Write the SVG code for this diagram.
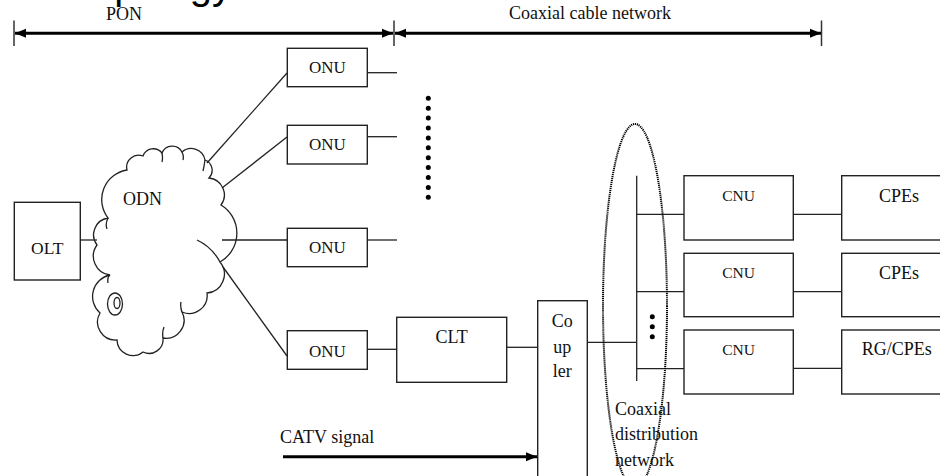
<svg xmlns="http://www.w3.org/2000/svg" width="940" height="476" viewBox="0 0 940 476">
<defs>
<style>
.box{fill:#fff;stroke:#222;stroke-width:1.4}
.ln{stroke:#222;stroke-width:1.3;fill:none}
.dim{stroke:#000;stroke-width:3;fill:none}
.tick{stroke:#333;stroke-width:1.5}
.t{font-family:"Liberation Serif","Times New Roman",serif;font-size:18px;fill:#111}
.tc{text-anchor:middle}
.dot{fill:#000}
</style>
<marker id="ah" markerUnits="userSpaceOnUse" markerWidth="12" markerHeight="10" refX="11" refY="5" orient="auto-start-reverse" viewBox="0 0 12 10">
<path d="M0,0.5 L11,5 L0,9.5 z" fill="#000"/>
</marker>
</defs>
<rect width="940" height="476" fill="#fff"/>

<text x="72" y="-1" style="font-family:'Liberation Sans',Arial,sans-serif;font-size:40px;fill:#000">Topology</text>

<g id="dimensions">
<line class="tick" x1="14" y1="20.5" x2="14" y2="46"/>
<line class="tick" x1="394" y1="20.5" x2="394" y2="46"/>
<line class="tick" x1="821.5" y1="20.5" x2="821.5" y2="46"/>
<line class="dim" x1="15" y1="33.3" x2="393" y2="33.3" marker-start="url(#ah)" marker-end="url(#ah)"/>
<line class="dim" x1="395" y1="33.3" x2="821" y2="33.3" marker-start="url(#ah)" marker-end="url(#ah)"/>
<text class="t" x="106" y="20">PON</text>
<text class="t" x="509" y="19">Coaxial cable network</text>
</g>

<g id="connectors">
<line class="ln" x1="80" y1="240" x2="97" y2="240"/>
<line class="ln" x1="207" y1="163" x2="287" y2="73"/>
<line class="ln" x1="222" y1="188" x2="287" y2="137"/>
<line class="ln" x1="222" y1="240" x2="287" y2="240"/>
<line class="ln" x1="223" y1="267" x2="287" y2="356"/>
<line class="ln" x1="365" y1="72.7" x2="397" y2="72.7"/>
<line class="ln" x1="365" y1="136.7" x2="397" y2="136.7"/>
<line class="ln" x1="365" y1="240" x2="397" y2="240"/>
<line class="ln" x1="365" y1="349.3" x2="397" y2="349.3"/>
<line class="ln" x1="506.7" y1="347.3" x2="538" y2="347.3"/>
<line class="ln" x1="587.3" y1="342.3" x2="636.7" y2="342.3"/>
<line class="ln" x1="636.7" y1="175.7" x2="636.7" y2="381"/>
<line class="ln" x1="636.7" y1="214.3" x2="684" y2="214.3"/>
<line class="ln" x1="636.7" y1="291.7" x2="684" y2="291.7"/>
<line class="ln" x1="636.7" y1="368.7" x2="684" y2="368.7"/>
<line class="ln" x1="793.3" y1="214.3" x2="841.7" y2="214.3"/>
<line class="ln" x1="793.3" y1="291.7" x2="841.7" y2="291.7"/>
<line class="ln" x1="793.3" y1="368.3" x2="841.7" y2="368.3"/>
<line class="dim" x1="283" y1="456.7" x2="537" y2="456.7" marker-end="url(#ah)"/>
</g>

<g id="dots-onu">
<circle class="dot" cx="428.3" cy="98.3" r="2.5"/>
<circle class="dot" cx="428.3" cy="108.2" r="2.5"/>
<circle class="dot" cx="428.3" cy="118.1" r="2.5"/>
<circle class="dot" cx="428.3" cy="128" r="2.5"/>
<circle class="dot" cx="428.3" cy="137.9" r="2.5"/>
<circle class="dot" cx="428.3" cy="147.8" r="2.5"/>
<circle class="dot" cx="428.3" cy="157.7" r="2.5"/>
<circle class="dot" cx="428.3" cy="167.6" r="2.5"/>
<circle class="dot" cx="428.3" cy="177.5" r="2.5"/>
<circle class="dot" cx="428.3" cy="187.4" r="2.5"/>
<circle class="dot" cx="428.3" cy="197.3" r="2.5"/>
</g>

<g id="dots-cnu">
<circle class="dot" cx="652.3" cy="316.7" r="2.5"/>
<circle class="dot" cx="652.3" cy="326.7" r="2.5"/>
<circle class="dot" cx="652.3" cy="336.7" r="2.5"/>
</g>

<g id="olt">
<rect class="box" x="14.3" y="202.3" width="66" height="77.7"/>
<text class="t tc" x="47.3" y="254" style="font-size:17.5px">OLT</text>
</g>

<g id="odn">
<path class="ln" fill="#fff" d="M97,245 A17,17 0 0 1 108,218 A30,30 0 0 1 127,170 A12,12 0 0 1 143,156 A11,11 0 0 1 162,153 A11,11 0 0 1 182,152 A14,14 0 0 1 205,160 A11,11 0 0 1 209,178 A17,17 0 0 1 221,205 A33,33 0 0 1 220,262 A19,19 0 0 1 207,293 A18,18 0 0 1 182,312 A18,18 0 0 1 163,338 A14,14 0 0 1 143,352 A16,16 0 0 1 117,340 A18,18 0 0 1 100,313 A22,22 0 0 1 110,275 A19,19 0 0 1 97,245 Z"/>
<path class="ln" d="M108,218 q-3,6 -1,11 M162,153 q1,5 0,9 M182,152 q2,4 1,8 M205,160 q-1,7 -2,11 M220,262 q-8,-15 -23,-22 M182,312 q-2,-5 -1,-10 M163,338 q-1,-6 1,-11 M110,275 q-3,2 -2,8"/>
<ellipse class="ln" cx="115" cy="304" rx="7.5" ry="11"/>
<ellipse class="ln" cx="117" cy="303" rx="3" ry="5.5"/>
<text class="t" x="123" y="205" style="font-size:18px">ODN</text>
</g>

<g id="onu1">
<rect class="box" x="287.3" y="48.3" width="80" height="38.4"/>
<text class="t tc" x="327.3" y="73" style="font-size:17px">ONU</text>
</g>
<g id="onu2">
<rect class="box" x="287.3" y="125.3" width="80" height="38.7"/>
<text class="t tc" x="327.3" y="150" style="font-size:17px">ONU</text>
</g>
<g id="onu3">
<rect class="box" x="287.3" y="228.3" width="80" height="38.4"/>
<text class="t tc" x="327.3" y="253" style="font-size:17px">ONU</text>
</g>
<g id="onu4">
<rect class="box" x="287.3" y="330.7" width="80" height="38.6"/>
<text class="t tc" x="327.3" y="356.7" style="font-size:17px">ONU</text>
</g>

<g id="clt">
<rect class="box" x="396.7" y="317.3" width="110" height="65"/>
<text class="t tc" x="451.7" y="342.7">CLT</text>
</g>

<g id="coupler">
<rect class="box" x="537.7" y="300.7" width="49.6" height="190"/>
<text class="t tc" x="562.3" y="326.7">Co</text>
<text class="t tc" x="562.3" y="352.7">up</text>
<text class="t tc" x="562.3" y="377.3">ler</text>
</g>

<g id="catv">
<text class="t" x="280" y="442.7">CATV signal</text>
</g>

<g id="cnu1">
<rect class="box" x="684" y="175.7" width="109.3" height="64.3"/>
<text class="t tc" x="738.5" y="200.7" style="font-size:15.5px">CNU</text>
</g>
<g id="cnu2">
<rect class="box" x="684" y="253.3" width="109.3" height="63.4"/>
<text class="t tc" x="738.5" y="278" style="font-size:15.5px">CNU</text>
</g>
<g id="cnu3">
<rect class="box" x="684" y="330" width="109.3" height="64"/>
<text class="t tc" x="738.5" y="355" style="font-size:15.5px">CNU</text>
</g>

<g id="cpe1">
<rect class="box" x="841.7" y="175.7" width="110" height="64.3"/>
<text class="t tc" x="899" y="201.7">CPEs</text>
</g>
<g id="cpe2">
<rect class="box" x="841.7" y="253.3" width="110" height="63.4"/>
<text class="t tc" x="899" y="278.7">CPEs</text>
</g>
<g id="cpe3">
<rect class="box" x="841.7" y="330" width="110" height="64"/>
<text class="t tc" x="896.7" y="355">RG/CPEs</text>
</g>

<g id="coax-distribution">
<ellipse cx="635" cy="306" rx="32" ry="182" fill="none" stroke="#000" stroke-width="2" stroke-dasharray="1.2,0.8"/>
<text class="t" x="615" y="415">Coaxial</text>
<text class="t" x="615" y="440">distribution</text>
<text class="t" x="615" y="466">network</text>
</g>
</svg>
